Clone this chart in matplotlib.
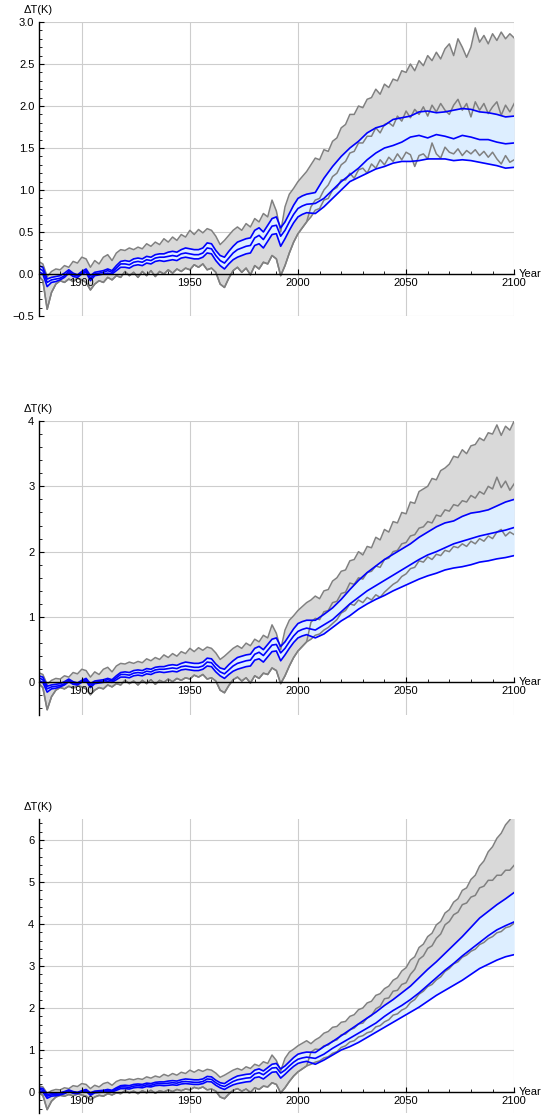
import numpy as np
import matplotlib
matplotlib.use("Agg")
import matplotlib.pyplot as plt
from matplotlib.ticker import FixedLocator, FixedFormatter, MultipleLocator

plt.rcParams['font.family'] = ['Liberation Sans', 'DejaVu Sans']

# shared historical part (1880-2004, every 2 years)
hist_years = np.arange(1880, 2005, 2)
hist_top = [0.15, 0.12, -0.03, 0.03, 0.06, 0.05, 0.10, 0.08, 0.15, 0.13,
            0.20, 0.18, 0.08, 0.16, 0.12, 0.20, 0.23, 0.16, 0.25, 0.29,
            0.28, 0.31, 0.29, 0.32, 0.30, 0.36, 0.33, 0.38, 0.35, 0.42,
            0.38, 0.44, 0.40, 0.47, 0.44, 0.52, 0.47, 0.53, 0.49, 0.54,
            0.52, 0.45, 0.35, 0.40, 0.46, 0.52, 0.56, 0.52, 0.60, 0.56,
            0.66, 0.62, 0.72, 0.68, 0.88, 0.75, 0.50, 0.80, 0.95, 1.02,
            1.10, 1.16, 1.22]
hist_bot = [-0.02, -0.08, -0.42, -0.22, -0.12, -0.08, -0.10, -0.06, -0.09, -0.05,
            -0.07, -0.10, -0.19, -0.12, -0.08, -0.10, -0.04, -0.07, -0.02, -0.04,
            0.03, -0.02, 0.02, -0.04, 0.03, -0.02, 0.04, -0.03, 0.03, 0.00,
            0.05, 0.01, 0.06, 0.03, 0.07, 0.05, 0.11, 0.08, 0.12, 0.05,
            0.07, 0.02, -0.12, -0.16, -0.05, 0.04, 0.08, 0.02, 0.07, -0.01,
            0.10, 0.06, 0.14, 0.12, 0.22, 0.18, -0.02, 0.10, 0.25, 0.38,
            0.48, 0.55, 0.62]
hist_bu = [0.10, 0.08, -0.06, -0.04, -0.03, -0.02, 0.01, 0.05, 0.01, -0.01,
           0.03, 0.06, -0.02, 0.02, 0.03, 0.04, 0.06, 0.04, 0.10, 0.15,
           0.16, 0.15, 0.18, 0.19, 0.18, 0.21, 0.20, 0.23, 0.24, 0.24,
           0.26, 0.27, 0.26, 0.29, 0.31, 0.30, 0.29, 0.29, 0.31, 0.37,
           0.36, 0.28, 0.22, 0.20, 0.27, 0.33, 0.38, 0.40, 0.42, 0.43,
           0.52, 0.55, 0.50, 0.58, 0.66, 0.68, 0.55, 0.62, 0.72, 0.82,
           0.90, 0.93, 0.95]
hist_bm = [0.07, 0.04, -0.10, -0.07, -0.06, -0.05, -0.02, 0.03, -0.01, -0.02,
           0.01, 0.04, -0.05, 0.00, 0.01, 0.02, 0.04, 0.02, 0.07, 0.12,
           0.12, 0.11, 0.14, 0.15, 0.14, 0.17, 0.16, 0.19, 0.20, 0.20,
           0.21, 0.22, 0.21, 0.24, 0.25, 0.24, 0.23, 0.23, 0.25, 0.31,
           0.30, 0.22, 0.16, 0.13, 0.19, 0.25, 0.29, 0.31, 0.33, 0.34,
           0.43, 0.46, 0.41, 0.49, 0.57, 0.58, 0.45, 0.52, 0.62, 0.71,
           0.78, 0.81, 0.83]
hist_bl = [0.03, 0.00, -0.15, -0.10, -0.09, -0.07, -0.04, 0.01, -0.03, -0.04,
           0.00, 0.02, -0.08, -0.02, -0.01, 0.00, 0.01, 0.00, 0.04, 0.08,
           0.08, 0.07, 0.10, 0.11, 0.10, 0.13, 0.12, 0.15, 0.16, 0.15,
           0.16, 0.17, 0.16, 0.19, 0.20, 0.19, 0.18, 0.18, 0.20, 0.25,
           0.24, 0.16, 0.10, 0.06, 0.12, 0.17, 0.20, 0.22, 0.24, 0.25,
           0.34, 0.36, 0.31, 0.39, 0.47, 0.48, 0.33, 0.42, 0.52, 0.61,
           0.68, 0.71, 0.73]

# scenario projections
fut_years = np.arange(2006, 2101, 2)
blue_years = np.arange(2008, 2101, 4)

# panel 1
p1_g1 = [1.30, 1.38, 1.36, 1.48, 1.46, 1.58, 1.62, 1.74, 1.78, 1.90,
         1.90, 2.00, 1.98, 2.08, 2.10, 2.20, 2.14, 2.26, 2.22, 2.32,
         2.30, 2.42, 2.40, 2.50, 2.42, 2.54, 2.48, 2.60, 2.54, 2.64,
         2.56, 2.68, 2.74, 2.60, 2.80, 2.70, 2.58, 2.70, 2.93, 2.76,
         2.84, 2.74, 2.86, 2.78, 2.88, 2.80, 2.86, 2.81]
p1_g2 = [0.80, 0.88, 0.90, 1.00, 1.06, 1.16, 1.20, 1.30, 1.34, 1.44,
         1.46, 1.56, 1.56, 1.64, 1.64, 1.74, 1.68, 1.78, 1.80, 1.76,
         1.88, 1.82, 1.94, 1.86, 1.96, 1.90, 1.99, 1.88, 2.01, 1.93,
         2.03, 1.95, 1.90, 2.01, 2.08, 1.95, 2.03, 1.87, 2.05, 1.95,
         2.03, 1.91, 1.99, 2.05, 1.89, 2.01, 1.93, 2.03]
p1_g3 = [0.68, 0.76, 0.78, 0.88, 0.90, 1.00, 1.03, 1.12, 1.12, 1.20,
         1.14, 1.24, 1.26, 1.20, 1.31, 1.26, 1.36, 1.30, 1.39, 1.34,
         1.43, 1.36, 1.45, 1.42, 1.28, 1.41, 1.43, 1.37, 1.56, 1.43,
         1.38, 1.51, 1.45, 1.43, 1.49, 1.41, 1.47, 1.43, 1.48, 1.41,
         1.46, 1.39, 1.45, 1.37, 1.31, 1.41, 1.33, 1.36]
p1_bu = [0.97, 1.14, 1.28, 1.40, 1.50, 1.58, 1.68, 1.74, 1.77, 1.84, 1.86, 1.88,
         1.93, 1.94, 1.92, 1.93, 1.95, 1.97, 1.96, 1.93, 1.92, 1.90, 1.87, 1.88]
p1_bm = [0.84, 0.90, 1.00, 1.10, 1.18, 1.26, 1.36, 1.44, 1.50, 1.53, 1.57, 1.63,
         1.65, 1.62, 1.66, 1.64, 1.61, 1.65, 1.63, 1.60, 1.60, 1.57, 1.55, 1.56]
p1_bl = [0.72, 0.80, 0.90, 1.00, 1.10, 1.15, 1.20, 1.25, 1.28, 1.32, 1.34, 1.34,
         1.35, 1.37, 1.37, 1.37, 1.35, 1.36, 1.35, 1.33, 1.31, 1.29, 1.26, 1.27]

# panel 2
p2_g1 = [1.26, 1.32, 1.28, 1.40, 1.42, 1.55, 1.60, 1.70, 1.72, 1.86,
         1.88, 2.00, 1.95, 2.08, 2.06, 2.22, 2.18, 2.34, 2.30, 2.46,
         2.44, 2.60, 2.58, 2.76, 2.74, 2.92, 2.96, 3.00, 3.12, 3.10,
         3.24, 3.28, 3.34, 3.46, 3.44, 3.56, 3.50, 3.62, 3.64, 3.74,
         3.70, 3.82, 3.80, 3.94, 3.78, 3.92, 3.86, 4.00]
p2_g2 = [0.92, 0.98, 0.96, 1.08, 1.10, 1.22, 1.24, 1.36, 1.38, 1.52,
         1.50, 1.60, 1.58, 1.68, 1.70, 1.78, 1.76, 1.88, 1.90, 2.00,
         2.02, 2.12, 2.14, 2.24, 2.26, 2.36, 2.38, 2.46, 2.44, 2.56,
         2.54, 2.64, 2.62, 2.72, 2.70, 2.78, 2.76, 2.86, 2.82, 2.92,
         2.88, 3.00, 2.96, 3.14, 2.98, 3.08, 2.94, 3.04]
p2_g3 = [0.66, 0.72, 0.74, 0.80, 0.84, 0.90, 0.96, 1.06, 1.10, 1.20,
         1.18, 1.26, 1.22, 1.30, 1.26, 1.34, 1.30, 1.38, 1.44, 1.50,
         1.54, 1.62, 1.66, 1.74, 1.76, 1.86, 1.84, 1.92, 1.88, 1.96,
         1.94, 2.02, 2.00, 2.08, 2.06, 2.12, 2.08, 2.16, 2.12, 2.20,
         2.16, 2.24, 2.20, 2.30, 2.34, 2.24, 2.30, 2.26]
p2_bu = [0.95, 1.04, 1.14, 1.27, 1.42, 1.56, 1.68, 1.78, 1.88, 1.96, 2.04, 2.12,
         2.22, 2.30, 2.38, 2.44, 2.47, 2.54, 2.59, 2.61, 2.64, 2.70, 2.76, 2.80]
p2_bm = [0.80, 0.88, 0.96, 1.08, 1.20, 1.30, 1.40, 1.48, 1.56, 1.64, 1.72, 1.80,
         1.88, 1.95, 2.00, 2.06, 2.12, 2.16, 2.20, 2.24, 2.27, 2.30, 2.33, 2.37]
p2_bl = [0.68, 0.74, 0.84, 0.94, 1.02, 1.12, 1.20, 1.27, 1.33, 1.40, 1.46, 1.52,
         1.58, 1.63, 1.67, 1.72, 1.75, 1.77, 1.80, 1.84, 1.86, 1.89, 1.91, 1.94]

# panel 3
p3_g1 = [1.15, 1.24, 1.30, 1.40, 1.44, 1.54, 1.56, 1.66, 1.68, 1.80,
         1.84, 1.96, 2.00, 2.12, 2.16, 2.30, 2.34, 2.46, 2.52, 2.66,
         2.72, 2.88, 2.96, 3.14, 3.22, 3.44, 3.52, 3.70, 3.78, 3.98,
         4.06, 4.26, 4.34, 4.52, 4.60, 4.80, 4.86, 5.06, 5.16, 5.38,
         5.50, 5.72, 5.84, 6.04, 6.16, 6.36, 6.48, 6.70]
p3_g2 = [0.95, 1.02, 1.01, 1.10, 1.12, 1.21, 1.24, 1.36, 1.38, 1.48,
         1.52, 1.62, 1.64, 1.76, 1.82, 1.98, 2.04, 2.22, 2.24, 2.40,
         2.42, 2.56, 2.60, 2.80, 2.92, 3.16, 3.24, 3.42, 3.48, 3.66,
         3.76, 3.98, 4.06, 4.22, 4.28, 4.46, 4.50, 4.64, 4.68, 4.86,
         4.90, 5.04, 5.04, 5.16, 5.16, 5.28, 5.28, 5.40]
p3_g3 = [0.66, 0.71, 0.74, 0.81, 0.84, 0.92, 0.96, 1.06, 1.10, 1.19,
         1.22, 1.31, 1.34, 1.41, 1.44, 1.55, 1.58, 1.67, 1.72, 1.83,
         1.86, 1.95, 2.00, 2.13, 2.20, 2.33, 2.40, 2.51, 2.56, 2.67,
         2.74, 2.87, 2.94, 3.05, 3.10, 3.21, 3.26, 3.35, 3.40, 3.51,
         3.56, 3.65, 3.70, 3.79, 3.82, 3.91, 3.94, 4.02]
p3_bu = [0.94, 1.08, 1.20, 1.34, 1.48, 1.62, 1.76, 1.90, 2.06, 2.20, 2.36, 2.52,
         2.72, 2.92, 3.10, 3.30, 3.50, 3.70, 3.92, 4.14, 4.30, 4.46, 4.60, 4.75]
p3_bm = [0.80, 0.90, 1.04, 1.16, 1.28, 1.40, 1.52, 1.64, 1.80, 1.94, 2.06, 2.20,
         2.36, 2.54, 2.72, 2.90, 3.06, 3.24, 3.40, 3.56, 3.72, 3.86, 3.96, 4.05]
p3_bl = [0.66, 0.76, 0.88, 1.00, 1.08, 1.18, 1.30, 1.42, 1.54, 1.66, 1.78, 1.90,
         2.02, 2.16, 2.30, 2.42, 2.54, 2.66, 2.80, 2.94, 3.04, 3.14, 3.22, 3.27]

x_ticks = [1900, 1950, 2000, 2050, 2100]
x_labels = ['1900', '1950', '2000', '2050', '2100']

GRAY_FILL = '#d9d9d9'
GRAY_LINE = '#808080'
BLUE_FILL = '#ddeeff'
BLUE = '#0000ff'
GRID = '#cdcdcd'


def draw_panel(ax, g1, g2, g3, bu, bm, bl, ymax, yticks, ylabels, yminor):
    gx = np.concatenate([hist_years, fut_years])
    top = np.concatenate([hist_top, g1])
    mid = np.concatenate([hist_bot, g2])
    low = np.concatenate([hist_bot, g3])
    bx = np.concatenate([hist_years, blue_years])
    up = np.concatenate([hist_bu, bu])
    md = np.concatenate([hist_bm, bm])
    lo = np.concatenate([hist_bl, bl])

    # grid lines under everything
    for x in x_ticks:
        ax.axvline(x, color=GRID, lw=0.8, zorder=0)
    for y in yticks:
        ax.axhline(y, color=GRID, lw=0.8, zorder=0)

    ax.fill_between(gx, low, top, color=GRAY_FILL, lw=0, zorder=1)
    ax.fill_between(bx, lo, up, color=BLUE_FILL, lw=0, zorder=2)
    for s in (top, mid, low):
        ax.plot(gx, s, color=GRAY_LINE, lw=1.1, zorder=3)
    for s in (up, md, lo):
        ax.plot(bx, s, color=BLUE, lw=1.2, zorder=4)

    ax.set_xlim(1880, 2100)
    ax.set_ylim(-0.5, ymax)

    ax.xaxis.set_major_locator(FixedLocator(x_ticks))
    ax.xaxis.set_major_formatter(FixedFormatter(x_labels))
    ax.xaxis.set_minor_locator(MultipleLocator(10))
    ax.yaxis.set_major_locator(FixedLocator(yticks))
    ax.yaxis.set_major_formatter(FixedFormatter(ylabels))
    ax.yaxis.set_minor_locator(MultipleLocator(yminor))

    ax.set_axisbelow(False)
    ax.xaxis.set_zorder(6)
    ax.yaxis.set_zorder(6)

    ax.spines['top'].set_visible(False)
    ax.spines['right'].set_visible(False)
    ax.spines['bottom'].set_position(('data', 0))
    for sp in ('left', 'bottom'):
        ax.spines[sp].set_linewidth(1.0)
        ax.spines[sp].set_color('black')
        ax.spines[sp].set_zorder(6)

    ax.tick_params(which='major', direction='in', length=3.5, width=0.8,
                   labelsize=8, colors='black', pad=3)
    ax.tick_params(which='minor', direction='in', length=2, width=0.6)

    ax.text(1.01, 0, 'Year', transform=ax.get_yaxis_transform(),
            ha='left', va='center', fontsize=8, zorder=7)
    ax.text(0, 1.042, 'ΔT(K)', transform=ax.transAxes,
            ha='center', va='center', fontsize=8)


fig = plt.figure(figsize=(5.48, 11.17), dpi=100)
ax1 = fig.add_axes([0.0703, 0.7171, 0.868, 0.2632])
ax2 = fig.add_axes([0.0703, 0.3599, 0.868, 0.2632])
ax3 = fig.add_axes([0.0703, 0.0036, 0.868, 0.2632])

draw_panel(ax1, p1_g1, p1_g2, p1_g3, p1_bu, p1_bm, p1_bl, 3.0,
           [-0.5, 0, 0.5, 1.0, 1.5, 2.0, 2.5, 3.0],
           ['\u22120.5', '0.0', '0.5', '1.0', '1.5', '2.0', '2.5', '3.0'], 0.1)
draw_panel(ax2, p2_g1, p2_g2, p2_g3, p2_bu, p2_bm, p2_bl, 4.0,
           [0, 1, 2, 3, 4], ['0', '1', '2', '3', '4'], 0.2)
draw_panel(ax3, p3_g1, p3_g2, p3_g3, p3_bu, p3_bm, p3_bl, 6.5,
           [0, 1, 2, 3, 4, 5, 6], ['0', '1', '2', '3', '4', '5', '6'], 0.2)

plt.savefig("out.png", dpi=100)
